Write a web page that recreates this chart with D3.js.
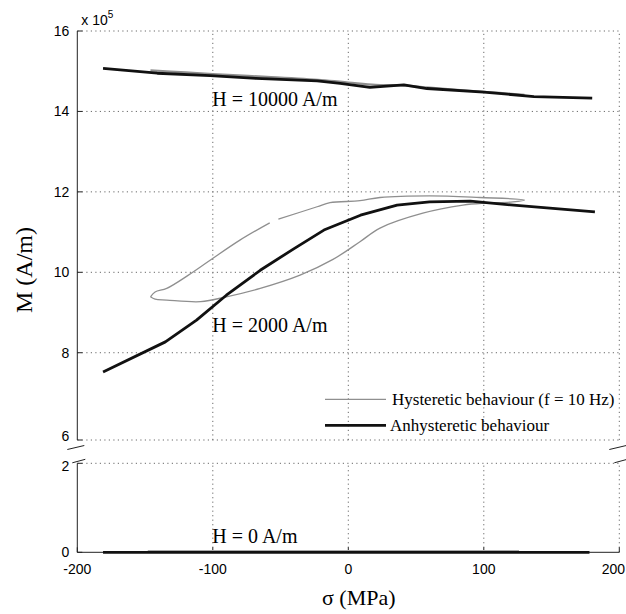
<!DOCTYPE html>
<html>
<head>
<meta charset="utf-8">
<script src="https://cdn.jsdelivr.net/npm/d3@7"></script>
<style>
  html, body { margin: 0; padding: 0; background: #fff; }
  svg { display: block; }
  .tick-label { font-family: "Liberation Sans", Arial, Helvetica, sans-serif; font-size: 14px; fill: #000; }
  .serif { font-family: "Liberation Serif", "Times New Roman", Times, serif; fill: #000; }
</style>
</head>
<body>
<svg id="chart" width="626" height="614"></svg>
<script>
// ---------------- Data (M in units of 1e5 A/m, sigma in MPa) ----------------
const xTicks = [-200, -100, 0, 100, 200];
const yTopTicks = [8, 10, 12, 14, 16];
const yTopEdgeLabel = "6";
const yBotTicks = [0, 2];

// H = 10000 A/m
const anhyst10000Sigma = [-181, -141, -102, -68, -23, -6, 16, 41, 58, 100, 137, 180];
const anhyst10000M     = [15.07, 14.95, 14.89, 14.82, 14.76, 14.70, 14.60, 14.66, 14.57, 14.48, 14.37, 14.33];
const hyst10000Sigma   = [-146, -120, -100, -60, -20, 0, 20, 40, 60, 100, 130];
const hyst10000M       = [15.02, 14.97, 14.93, 14.86, 14.78, 14.72, 14.66, 14.65, 14.59, 14.49, 14.41];

// H = 2000 A/m
const anhyst2000Sigma = [-181, -135, -112, -90, -65, -40, -18, 9, 36, 60, 90, 122, 182];
const anhyst2000M     = [7.52, 8.27, 8.81, 9.43, 10.05, 10.59, 11.05, 11.42, 11.67, 11.75, 11.77, 11.67, 11.50];
// hysteresis loop: upper branch (left -> right, with a small gap), then lower branch (right -> left)
const hyst2000Sigma = [-146, -142.6, -134, -118, -102, -80, -58, -55, -51.6, -23, -13.5, 8.6, 23.4, 60, 97, 130,
                       121.5, 100, 84.6, 55, 23.4, 8.6, -11.3, -35.6, -65, -90, -109, -134, -142.6, -146];
const hyst2000M     = [9.39, 9.51, 9.60, 9.93, 10.30, 10.80, 11.23, null, 11.32, 11.63, 11.73, 11.78, 11.86, 11.90, 11.86, 11.80,
                       11.75, 11.72, 11.67, 11.47, 11.10, 10.76, 10.32, 9.93, 9.60, 9.39, 9.27, 9.31, 9.33, 9.39];

// H = 0 A/m
const anhyst0Sigma = [-181, -100, 0, 100, 178];
const anhyst0M     = [0, 0, 0, 0, 0];
const hyst0Sigma   = [-148, -100, 0, 100, 126];
const hyst0M       = [0.03, 0.03, 0.03, 0.03, 0.03];

const curveLabels = ["H = 10000 A/m", "H = 2000 A/m", "H = 0 A/m"];
const legendLabels = ["Hysteretic behaviour (f = 10 Hz)", "Anhysteretic behaviour"];

// ---------------- Layout ----------------
const svg = d3.select("#chart");
const x = d3.scaleLinear().domain([-200, 200]).range([77.3, 619.3]);
const yTop = d3.scaleLinear().domain([5.83, 16]).range([440, 31]);
const yBot = d3.scaleLinear().domain([0, 2]).range([552.3, 463.3]);

const gridColor = "#6a6a6a";
const gridDash = "1.2,3.3";
const hystColor = "#8f8f8f";

function zip(sig, m) { return sig.map((s, i) => ({ s: s, m: m[i] })); }

// ---------------- Grid ----------------
const grid = svg.append("g");
function hGrid(scale, vals) {
  grid.selectAll(null).data(vals).enter().append("line")
    .attr("x1", x.range()[0]).attr("x2", x.range()[1])
    .attr("y1", d => scale(d)).attr("y2", d => scale(d))
    .attr("stroke", gridColor).attr("stroke-width", 1).attr("stroke-dasharray", gridDash);
}
hGrid(yTop, yTopTicks.concat([yTop.domain()[0]]));
hGrid(yBot, [2]);
function vGrid(scale) {
  grid.selectAll(null).data(xTicks.slice(1)).enter().append("line")
    .attr("x1", d => x(d)).attr("x2", d => x(d))
    .attr("y1", scale.range()[0]).attr("y2", scale.range()[1])
    .attr("stroke", gridColor).attr("stroke-width", 1).attr("stroke-dasharray", gridDash);
}
vGrid(yTop);
vGrid(yBot);

// ---------------- Axes ----------------
const axes = svg.append("g").attr("stroke", "#222").attr("stroke-width", 1).attr("fill", "none");
const x0 = x.range()[0];
axes.append("line").attr("x1", x0).attr("x2", x0).attr("y1", yTop.range()[1]).attr("y2", yTop.range()[0]);
axes.append("line").attr("x1", x0).attr("x2", x0).attr("y1", yBot.range()[1]).attr("y2", yBot.range()[0]);
axes.append("line").attr("x1", x.range()[0]).attr("x2", x.range()[1]).attr("y1", yBot(0)).attr("y2", yBot(0));
axes.selectAll(null).data(yTopTicks.concat([yTop.domain()[0]])).enter().append("line")
  .attr("x1", x0).attr("x2", x0 + 5).attr("y1", d => yTop(d)).attr("y2", d => yTop(d));
axes.selectAll(null).data(yBotTicks).enter().append("line")
  .attr("x1", x0).attr("x2", x0 + 5).attr("y1", d => yBot(d)).attr("y2", d => yBot(d));
axes.selectAll(null).data(xTicks).enter().append("line")
  .attr("x1", d => x(d)).attr("x2", d => x(d)).attr("y1", yBot(0)).attr("y2", yBot(0) - 5);

// axis break marks
const brk = svg.append("g").attr("stroke", "#222").attr("stroke-width", 1);
[x.range()[0], x.range()[1]].forEach(px => {
  brk.append("line").attr("x1", px - 10).attr("y1", yTop.range()[0] + 9.5).attr("x2", px + 7).attr("y2", yTop.range()[0] + 5.5);
  brk.append("line").attr("x1", px - 5).attr("y1", yBot.range()[1] - 0.5).attr("x2", px + 8).attr("y2", yBot.range()[1] - 4);
});

// tick labels
svg.selectAll(null).data(yTopTicks).enter().append("text")
  .attr("class", "tick-label").attr("x", x0 - 8).attr("y", d => yTop(d)).attr("dy", "0.36em")
  .attr("text-anchor", "end").text(d => d);
svg.append("text").attr("class", "tick-label").attr("x", x0 - 8).attr("y", yTop.range()[0])
  .attr("dy", "0.1em").attr("text-anchor", "end").text(yTopEdgeLabel);
svg.selectAll(null).data(yBotTicks).enter().append("text")
  .attr("class", "tick-label").attr("x", x0 - 8).attr("y", d => yBot(d)).attr("dy", d => d === 2 ? "0.55em" : "0.36em")
  .attr("text-anchor", "end").text(d => d);
svg.selectAll(null).data(xTicks).enter().append("text")
  .attr("class", "tick-label")
  .attr("x", d => d === xTicks[xTicks.length - 1] ? 625 : x(d))
  .attr("y", yBot(0) + 22)
  .attr("text-anchor", d => d === xTicks[xTicks.length - 1] ? "end" : "middle").text(d => d);

// exponent label
const ex = svg.append("text").attr("class", "tick-label").attr("x", x0 + 4).attr("y", 25);
ex.append("tspan").text("x 10");
ex.append("tspan").attr("dy", -7).attr("font-size", "10px").text("5");

// axis titles
svg.append("text").attr("class", "serif").attr("font-size", "24px")
  .attr("transform", "translate(32,270) rotate(-90)").attr("text-anchor", "middle").text("M (A/m)");
svg.append("text").attr("class", "serif").attr("font-size", "22px")
  .attr("x", 322).attr("y", 605).text("σ (MPa)");

// ---------------- Curves ----------------
const lineTop = d3.line().defined(d => d.m != null).x(d => x(d.s)).y(d => yTop(d.m)).curve(d3.curveCatmullRom.alpha(0.5));
const lineBot = d3.line().x(d => x(d.s)).y(d => yBot(d.m));
const lineTopLin = d3.line().x(d => x(d.s)).y(d => yTop(d.m));

const curves = svg.append("g").attr("fill", "none").attr("stroke-linejoin", "round").attr("stroke-linecap", "butt");
curves.append("path").attr("d", lineTop(zip(hyst10000Sigma, hyst10000M))).attr("stroke", hystColor).attr("stroke-width", 2.2);
curves.append("path").attr("d", lineTop(zip(hyst2000Sigma, hyst2000M))).attr("stroke", hystColor).attr("stroke-width", 1.3);
curves.append("path").attr("d", lineBot(zip(hyst0Sigma, hyst0M))).attr("stroke", "#aaa").attr("stroke-width", 2);
curves.append("path").attr("d", lineTopLin(zip(anhyst10000Sigma, anhyst10000M))).attr("stroke", "#111").attr("stroke-width", 2.8);
curves.append("path").attr("d", lineTopLin(zip(anhyst2000Sigma, anhyst2000M))).attr("stroke", "#111").attr("stroke-width", 2.8);
curves.append("path").attr("d", lineBot(zip(anhyst0Sigma, anhyst0M))).attr("stroke", "#111").attr("stroke-width", 2.8);

// curve labels
const labelX = x(-100) - 0.5;
svg.append("text").attr("class", "serif").attr("font-size", "20px").attr("x", labelX).attr("y", yTop(14.14)).text(curveLabels[0]);
svg.append("text").attr("class", "serif").attr("font-size", "20px").attr("x", labelX).attr("y", yTop(8.52)).text(curveLabels[1]);
svg.append("text").attr("class", "serif").attr("font-size", "20px").attr("x", labelX).attr("y", yBot(0.2)).text(curveLabels[2]);

// ---------------- Legend ----------------
const leg = svg.append("g");
const legX1 = 325, legX2 = 386;
const legY = [399.3, 425.3];
leg.append("line").attr("x1", legX1).attr("x2", legX2).attr("y1", legY[0]).attr("y2", legY[0]).attr("stroke", hystColor).attr("stroke-width", 1.3);
leg.append("line").attr("x1", legX1).attr("x2", legX2).attr("y1", legY[1]).attr("y2", legY[1]).attr("stroke", "#111").attr("stroke-width", 2.8);
leg.append("text").attr("class", "serif").attr("font-size", "17px").attr("x", 392).attr("y", legY[0]).attr("dy", "0.33em").text(legendLabels[0]);
leg.append("text").attr("class", "serif").attr("font-size", "17px").attr("x", 390).attr("y", legY[1]).attr("dy", "0.33em").text(legendLabels[1]);
</script>
</body>
</html>
